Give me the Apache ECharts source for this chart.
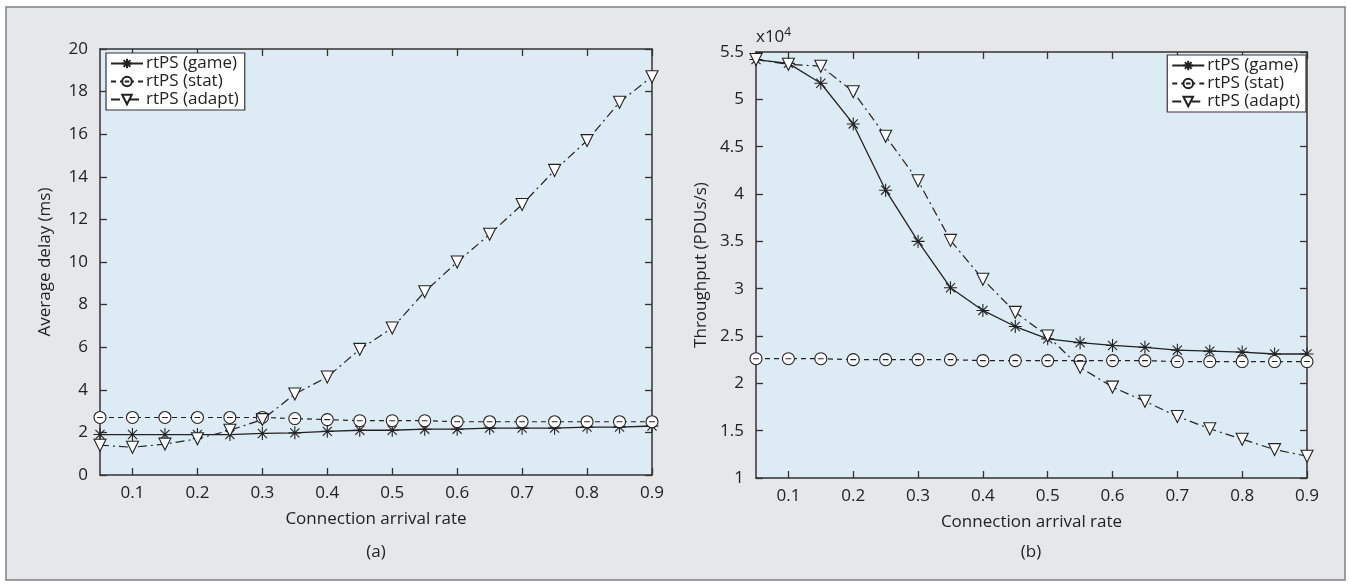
<!DOCTYPE html>
<html>
<head>
<meta charset="utf-8">
<script src="https://cdn.jsdelivr.net/npm/echarts@6/dist/echarts.min.js"></script>
<style>
  html, body { margin: 0; padding: 0; background: #fff; }
  #chart { width: 1350px; height: 586px; }
</style>
</head>
<body>
<div id="chart"></div>
<script>
// connection arrival rate (x)
const rates = [0.05, 0.1, 0.15, 0.2, 0.25, 0.3, 0.35, 0.4, 0.45, 0.5, 0.55, 0.6, 0.65, 0.7, 0.75, 0.8, 0.85, 0.9];
const xTicks = [0.1, 0.2, 0.3, 0.4, 0.5, 0.6, 0.7, 0.8, 0.9];

// (a) average delay, ms
const delayGame  = [1.9, 1.9, 1.9, 1.9, 1.9, 1.95, 1.98, 2.05, 2.1, 2.1, 2.15, 2.15, 2.2, 2.2, 2.2, 2.25, 2.25, 2.3];
const delayStat  = [2.7, 2.7, 2.7, 2.7, 2.7, 2.7, 2.65, 2.6, 2.55, 2.55, 2.55, 2.5, 2.5, 2.5, 2.5, 2.5, 2.5, 2.5];
const delayAdapt = [1.4, 1.3, 1.45, 1.7, 2.1, 2.6, 3.8, 4.6, 5.9, 6.9, 8.6, 10.0, 11.3, 12.7, 14.3, 15.7, 17.5, 18.7];

// (b) throughput, x10^4 PDUs/s
const thrGame  = [5.42, 5.38, 5.17, 4.74, 4.04, 3.5, 3.01, 2.77, 2.6, 2.47, 2.43, 2.4, 2.38, 2.35, 2.34, 2.33, 2.31, 2.31];
const thrStat  = [2.26, 2.26, 2.26, 2.25, 2.25, 2.25, 2.25, 2.24, 2.24, 2.24, 2.24, 2.24, 2.24, 2.23, 2.23, 2.23, 2.23, 2.23];
const thrAdapt = [5.42, 5.37, 5.35, 5.08, 4.61, 4.14, 3.51, 3.1, 2.75, 2.5, 2.17, 1.96, 1.81, 1.65, 1.52, 1.41, 1.3, 1.23];

const names = ['rtPS (game)', 'rtPS (stat)', 'rtPS (adapt)'];

const INK = '#222';
const FONT = '"Open Sans", "Noto Sans", sans-serif';
const FS = 17;

const starSym = 'path://M5,0 L5,10 M0,5 L10,5 M1.5,1.5 L8.5,8.5 M8.5,1.5 L1.5,8.5';
const circSym = 'path://M10,5 A5,5 0 1 1 0,5 A5,5 0 1 1 10,5 Z M2.6,5 L7.4,5';
const triSym  = 'path://M0,0 L10,0 L5,9.5 Z';

function pairs(ys) {
  return rates.map((x, i) => [x, ys[i]]);
}

function makeSeries(idx, game, stat, adapt) {
  const base = {
    type: 'line',
    xAxisIndex: idx,
    yAxisIndex: idx,
    showAllSymbol: true,
    animation: false
  };
  return [
    Object.assign({}, base, {
      name: names[0], data: pairs(game),
      symbol: starSym, symbolSize: 13,
      lineStyle: { color: INK, width: 1.3, type: 'solid' },
      itemStyle: { color: INK, borderColor: INK, borderWidth: 1.1 }
    }),
    Object.assign({}, base, {
      name: names[1], data: pairs(stat),
      symbol: circSym, symbolSize: 12,
      lineStyle: { color: INK, width: 1.2, type: [5, 4] },
      itemStyle: { color: '#fff', borderColor: INK, borderWidth: 1.1 }
    }),
    Object.assign({}, base, {
      name: names[2], data: pairs(adapt),
      symbol: triSym, symbolSize: 12,
      lineStyle: { color: INK, width: 1.2, type: [9, 4, 2, 4] },
      itemStyle: { color: '#fff', borderColor: INK, borderWidth: 1.1 }
    })
  ];
}

function xAx(grid, pos, withLabels) {
  return {
    type: 'value', gridIndex: grid, position: pos,
    min: 0.05, max: 0.9,
    name: withLabels ? 'Connection arrival rate' : '',
    nameLocation: 'middle', nameGap: 36,
    nameTextStyle: { color: INK, fontSize: FS, fontFamily: FONT },
    axisLine: { show: true, onZero: false, lineStyle: { color: '#333', width: 1.5 } },
    axisTick: { show: true, inside: true, length: 7, customValues: xTicks, lineStyle: { color: '#333', width: 1.3 } },
    axisLabel: { show: withLabels, customValues: xTicks, margin: 10, color: INK, fontSize: FS, fontFamily: FONT },
    splitLine: { show: false }
  };
}

function yAx(grid, pos, min, max, step, title, withLabels) {
  return {
    type: 'value', gridIndex: grid, position: pos,
    min: min, max: max, interval: step,
    name: withLabels ? title : '',
    nameLocation: 'middle', nameGap: 46,
    nameTextStyle: { color: INK, fontSize: FS, fontFamily: FONT },
    axisLine: { show: true, onZero: false, lineStyle: { color: '#333', width: 1.5 } },
    axisTick: { show: true, inside: true, length: 7, lineStyle: { color: '#333', width: 1.3 } },
    axisLabel: { show: withLabels, margin: 12, color: INK, fontSize: FS, fontFamily: FONT },
    splitLine: { show: false }
  };
}

function legendBox(pos) {
  return Object.assign({
    orient: 'vertical',
    data: names,
    backgroundColor: '#fff',
    borderColor: '#333',
    borderWidth: 1.2,
    borderRadius: 0,
    padding: [2, 6, 2, 4],
    itemGap: 1,
    itemWidth: 32,
    itemHeight: 12,
    selectedMode: false,
    textStyle: { color: INK, fontSize: FS, fontFamily: FONT, padding: [0, 0, 0, -2] }
  }, pos);
}

const chart = echarts.init(document.getElementById('chart'), null, { renderer: 'canvas' });

chart.setOption({
  animation: false,
  backgroundColor: '#fff',
  graphic: [
    {
      type: 'rect', z: -10,
      shape: { x: 6, y: 7, width: 1339, height: 573 },
      style: { fill: '#e6e7e9', stroke: '#808080', lineWidth: 1.5 }
    },
    {
      type: 'text', x: 376, y: 552,
      style: { text: '(a)', fill: INK, font: FS + 'px ' + FONT, textAlign: 'center', textVerticalAlign: 'middle' }
    },
    {
      type: 'text', x: 1031, y: 552,
      style: { text: '(b)', fill: INK, font: FS + 'px ' + FONT, textAlign: 'center', textVerticalAlign: 'middle' }
    },
    {
      type: 'text', left: 756, top: 27,
      style: {
        text: '{b|x10}{s|4}',
        rich: {
          b: { fill: INK, fontSize: FS, fontFamily: FONT, verticalAlign: 'bottom' },
          s: { fill: INK, fontSize: 12, fontFamily: FONT, verticalAlign: 'top', padding: [0, 0, 7, 0] }
        }
      }
    }
  ],
  grid: [
    { left: 100, top: 49, width: 552, height: 426, show: true, backgroundColor: '#dcebf4', borderWidth: 0 },
    { left: 756, top: 52, width: 551, height: 426, show: true, backgroundColor: '#dcebf4', borderWidth: 0 }
  ],
  legend: [
    legendBox({ left: 106, top: 53 }),
    legendBox({ right: 44, top: 55 })
  ],
  xAxis: [
    xAx(0, 'bottom', true),
    xAx(0, 'top', false),
    xAx(1, 'bottom', true),
    xAx(1, 'top', false)
  ],
  yAxis: [
    yAx(0, 'left', 0, 20, 2, 'Average delay (ms)', true),
    yAx(0, 'right', 0, 20, 2, '', false),
    yAx(1, 'left', 1, 5.5, 0.5, 'Throughput (PDUs/s)', true),
    yAx(1, 'right', 1, 5.5, 0.5, '', false)
  ],
  series: [].concat(
    makeSeries(0, delayGame, delayStat, delayAdapt),
    makeSeries(2, thrGame, thrStat, thrAdapt)
  )
});
</script>
</body>
</html>
